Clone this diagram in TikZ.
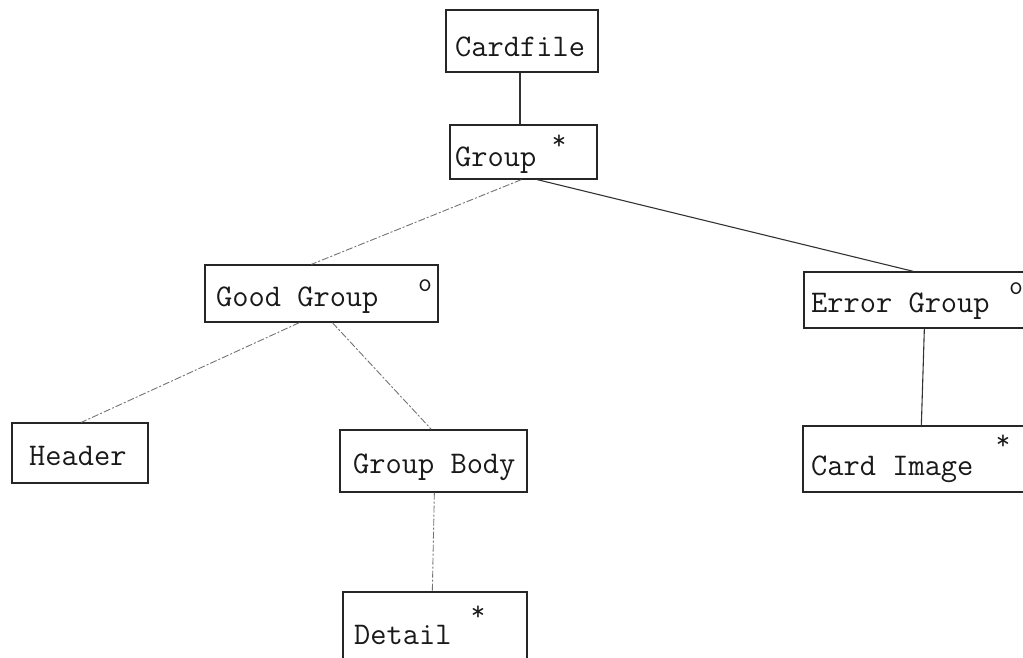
\documentclass[tikz,border=0pt]{standalone}
\usetikzlibrary{calc}
\begin{document}
\begin{tikzpicture}[x=1pt,y=-1pt,
  box/.style={draw=black!85, line width=1.3pt, minimum width=#1, inner sep=0pt},
  lbl/.style={anchor=base west, inner sep=0pt, font=\fontsize{31.5}{31.5}\ttfamily, text=black!90},
  starmk/.style={inner sep=0pt, font=\fontsize{28}{28}\ttfamily, text=black!90},
  circmk/.style={inner sep=0pt, font=\fontsize{27}{27}\ttfamily, text=black!90},
  solidlink/.style={draw=black!80, line width=1.1pt},
  dashlink/.style={draw=black!55, line width=0.9pt, dash pattern=on 7pt off 2pt on 2pt off 2pt}]
\useasboundingbox (0,0) rectangle (1023,657);
\clip (0,0) rectangle (1023,657);
% boxes
\node[box=152pt, minimum height=62pt] (card) at (522,41) {};
\node[box=147pt, minimum height=54pt] (grp) at (523.5,152) {};
\node[box=233pt, minimum height=57pt] (good) at (321.5,293.5) {};
\node[box=236pt, minimum height=56pt] (err) at (922,300) {};
\node[box=136pt, minimum height=60pt] (hdr) at (80,453) {};
\node[box=187pt, minimum height=62pt] (body) at (433.5,461) {};
\node[box=236pt, minimum height=66pt] (cimg) at (921,459) {};
\node[box=184pt, minimum height=76pt] (det) at (435,630) {};
% labels
\node[lbl] (tcard) at (455,56) {Cardfile};
\node[lbl] (tgrp) at (455,166) {Group};
\node[starmk] (sgrp) at (559,142) {*};
\node[lbl] (tgood) at (216,306) {Good Group};
\node[circmk] (cgood) at (425,286) {o};
\node[lbl] (terr) at (811,312) {Error Group};
\node[circmk] (cerr) at (1016,289) {o};
\node[lbl] (thdr) at (29,465) {Header};
\node[lbl] (tbody) at (353,473) {Group Body};
\node[lbl] (tcimg) at (811,475) {Card Image};
\node[starmk] (scimg) at (1003,442) {*};
\node[lbl] (tdet) at (354,644) {Detail};
\node[starmk] (sdet) at (478,613) {*};
% connectors
\draw[solidlink] ([xshift=-2pt]card.south) -- ([xshift=-3.5pt]grp.north);
\draw[dashlink] ([xshift=72pt]grp.south west) -- ([xshift=107pt]good.north west);
\draw[solidlink] ([xshift=88pt]grp.south west) -- ([xshift=110pt]err.north west);
\draw[dashlink] ([xshift=95pt]good.south west) -- ([xshift=70pt]hdr.north west);
\draw[dashlink] ([xshift=128pt]good.south west) -- ([xshift=92pt]body.north west);
\draw[dashlink] ([xshift=95pt]body.south west) -- ([xshift=90pt]det.north west);
\draw[solidlink] ([xshift=121pt]err.south west) -- ([xshift=119pt]cimg.north west);
\end{tikzpicture}
\end{document}
